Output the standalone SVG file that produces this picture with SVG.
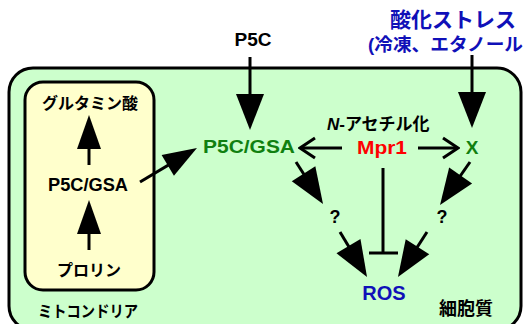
<svg xmlns="http://www.w3.org/2000/svg" width="524" height="324" viewBox="0 0 524 324">
<defs>
<style>
text{font-family:"Liberation Sans","Noto Sans CJK JP",sans-serif;font-weight:bold;fill:#000}
.c{text-anchor:middle}
.g{fill:#108010}
.b{fill:#1010B8}
.r{fill:#FF0000}
.ln{stroke:#000;stroke-width:3;fill:none}
</style>
<marker id="big" markerUnits="userSpaceOnUse" viewBox="-38 -16 40 32" markerWidth="40" markerHeight="32" refX="-8" refY="0" orient="auto"><path d="M0,0 L-36,-14 L-36,14 Z" fill="#000"/></marker>
<marker id="mid" markerUnits="userSpaceOnUse" viewBox="-36 -14 38 28" markerWidth="38" markerHeight="28" refX="-8" refY="0" orient="auto"><path d="M0,0 L-34,-12 L-34,12 Z" fill="#000"/></marker>
<marker id="open" markerUnits="userSpaceOnUse" viewBox="-18 -12 20 24" markerWidth="20" markerHeight="24" refX="-1" refY="0" orient="auto"><path d="M-15,-10 L0,0 L-15,10" fill="none" stroke="#000" stroke-width="3"/></marker>
</defs>
<g id="cytoplasm">
<rect x="9" y="68" width="512" height="262" rx="24" fill="#CCFFCC" stroke="#000" stroke-width="3"/>
<text class="c" x="466" y="315" font-size="18">細胞質</text>
</g>
<g id="mitochondria">
<rect x="25" y="82" width="129" height="208" rx="18" fill="#FFFFCC" stroke="#000" stroke-width="3"/>
<text class="c" x="88" y="317" font-size="16" textLength="100" lengthAdjust="spacingAndGlyphs">ミトコンドリア</text>
</g>
<g id="glutamate"><text class="c" x="90" y="109" font-size="16">グルタミン酸</text></g>
<g id="p5c-gsa-mito"><text class="c" x="88" y="191" font-size="19" textLength="80" lengthAdjust="spacingAndGlyphs">P5C/GSA</text></g>
<g id="proline"><text class="c" x="89" y="276" font-size="16">プロリン</text></g>
<g id="p5c-ext"><text class="c" x="253" y="46" font-size="19" textLength="37" lengthAdjust="spacingAndGlyphs">P5C</text></g>
<g id="stress">
<text class="c b" x="453" y="27" font-size="21">酸化ストレス</text>
<text class="b" x="368" y="51" font-size="18" textLength="155" lengthAdjust="spacingAndGlyphs">(冷凍、エタノール</text>
</g>
<g id="p5c-gsa-cyto"><text class="c g" x="249" y="153" font-size="19" textLength="92" lengthAdjust="spacingAndGlyphs">P5C/GSA</text></g>
<g id="acetylation"><text x="327" y="130" font-size="17"><tspan font-style="italic">N</tspan>-アセチル化</text></g>
<g id="mpr1"><text class="c r" x="382" y="154" font-size="19" textLength="50" lengthAdjust="spacingAndGlyphs">Mpr1</text></g>
<g id="x"><text class="c g" x="472" y="154" font-size="19">X</text></g>
<g id="q1"><text class="c" x="335" y="223" font-size="18">?</text></g>
<g id="q2"><text class="c" x="442" y="223" font-size="18">?</text></g>
<g id="ros"><text class="c b" x="384" y="300" font-size="20">ROS</text></g>
<g id="connectors">
<line class="ln" x1="250" y1="57" x2="250" y2="122" marker-end="url(#big)"/>
<line class="ln" x1="472" y1="55" x2="472" y2="120" marker-end="url(#big)"/>
<line class="ln" x1="89" y1="165" x2="89" y2="123" marker-end="url(#mid)"/>
<line class="ln" x1="89" y1="250" x2="89" y2="208" marker-end="url(#mid)"/>
<line class="ln" x1="140" y1="182" x2="190.1" y2="152.1" marker-end="url(#mid)"/>
<line class="ln" x1="296" y1="162" x2="318.7" y2="197.3" marker-end="url(#big)"/>
<line class="ln" x1="340" y1="232" x2="362.9" y2="270.1" marker-end="url(#big)"/>
<line class="ln" x1="470" y1="162" x2="444.6" y2="198.4" marker-end="url(#big)"/>
<line class="ln" x1="427" y1="232" x2="402.3" y2="270.3" marker-end="url(#big)"/>
<line class="ln" x1="342" y1="148" x2="301" y2="148" marker-end="url(#open)"/>
<line class="ln" x1="418" y1="148" x2="457" y2="148" marker-end="url(#open)"/>
<line class="ln" x1="383" y1="168" x2="383" y2="253"/>
<line class="ln" x1="369" y1="253" x2="398" y2="253"/>
</g>
</svg>
